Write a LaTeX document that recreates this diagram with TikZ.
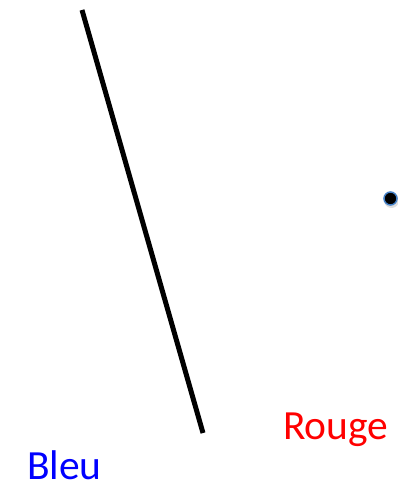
\documentclass[tikz,border=0pt]{standalone}
\usepackage{fontspec}
\setmainfont{Carlito}
\begin{document}
\begin{tikzpicture}[x=1pt,y=-1pt,
  lbl/.style={anchor=base west,inner sep=0pt,font=\fontsize{41.5}{48}\selectfont}]
\useasboundingbox (0,0) rectangle (398,489);
\coordinate (top) at (82,10);
\coordinate (bot) at (203,433);
\draw[line width=5pt] (top) -- (bot);
\fill[gray!25] (391.5,200.5) circle (7.5);
\node[circle,fill=black,draw={rgb,255:red,70;green,130;blue,200},line width=1.5pt,minimum size=13pt,inner sep=0pt] (dot) at (390.5,198.5) {};
\node[lbl,text=red] (rouge) at (283,439) {Rouge};
\node[lbl,text=blue] (bleu) at (27,479) {Bleu};
\end{tikzpicture}
\end{document}
